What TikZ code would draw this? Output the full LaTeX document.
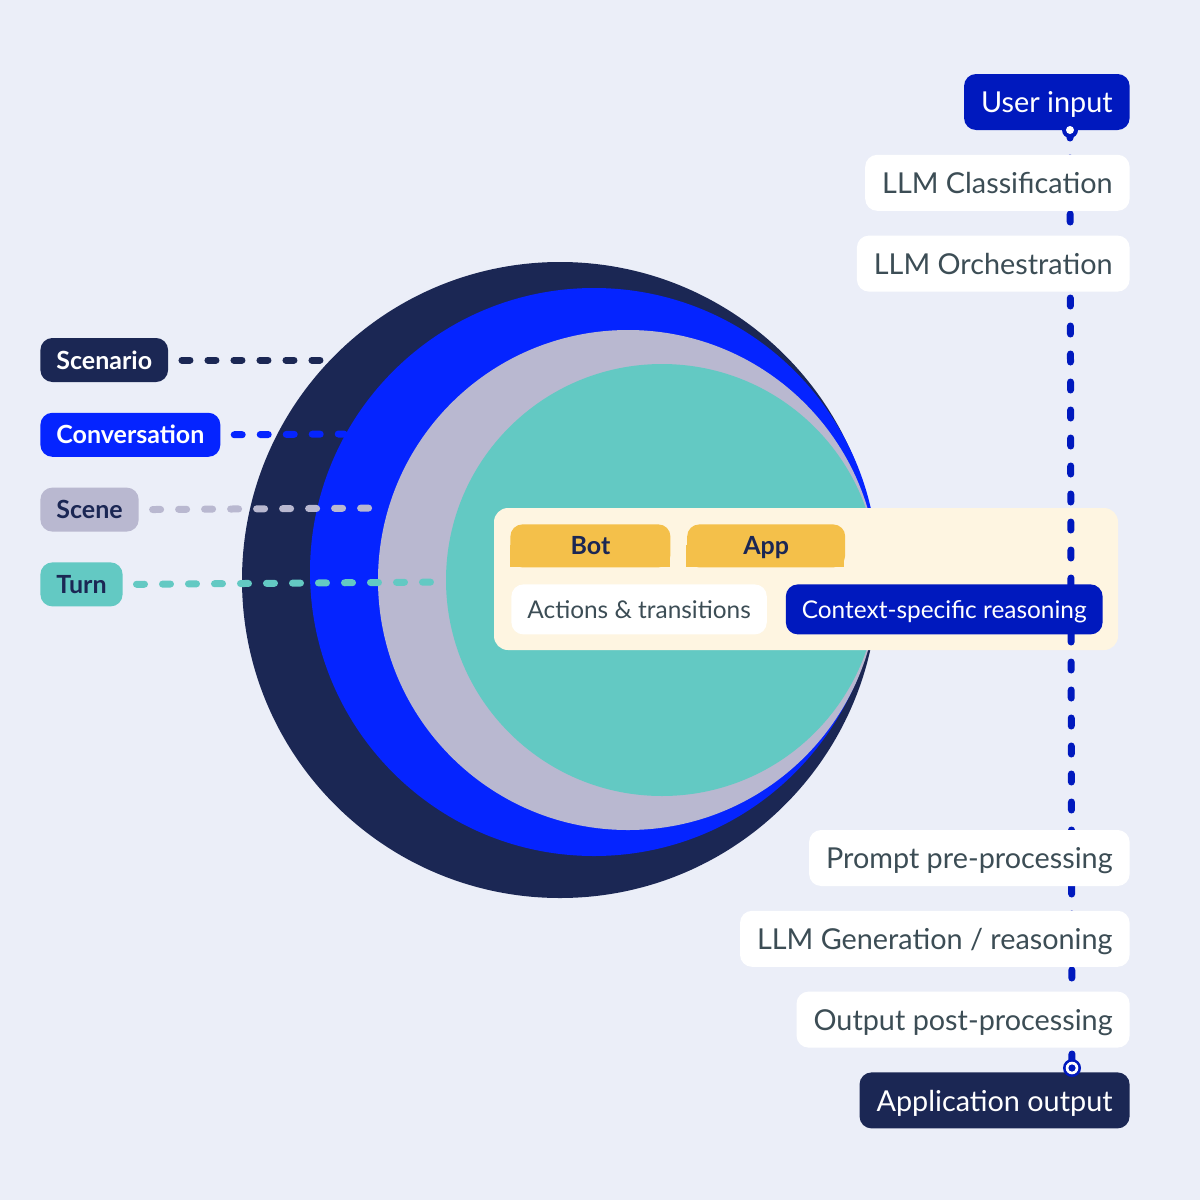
\documentclass[tikz,border=0pt]{standalone}
\usepackage{fontspec}
\setmainfont{Lato}
\usetikzlibrary{positioning,calc}
\definecolor{bgcol}{HTML}{EBEEF8}
\definecolor{navy}{HTML}{1B2754}
\definecolor{brightblue}{HTML}{0524FF}
\definecolor{lavender}{HTML}{B9B8D0}
\definecolor{teal}{HTML}{63C9C3}
\definecolor{deepblue}{HTML}{0019BE}
\definecolor{cream}{HTML}{FEF5E1}
\definecolor{tabyellow}{HTML}{F4C04A}
\definecolor{slate}{HTML}{3C4D55}

\begin{document}
\begin{tikzpicture}[x=0.5pt,y=-0.5pt,
  ring/.style={circle,inner sep=0pt},
  lbl/.style={rounded corners=6pt,inner xsep=8pt,minimum height=22pt,text height=9pt,text depth=0pt,font=\bfseries\fontsize{12.5}{14}\selectfont},
  rbox/.style={rounded corners=6pt,fill=white,text=slate,inner xsep=8.5pt,minimum height=28pt,text height=10.6pt,text depth=0pt,font=\fontsize{14.4}{16}\selectfont},
  tab/.style={fill=tabyellow,text=navy,rounded corners=6pt,minimum height=21.5pt,text height=9pt,text depth=0pt,font=\bfseries\fontsize{12.5}{14}\selectfont},
  chip/.style={rounded corners=6pt,minimum height=25pt,inner xsep=8pt,text height=8.8pt,text depth=0pt,font=\fontsize{12.2}{14}\selectfont},
  dots/.style={line width=3.5pt,line cap=round,dash pattern=on 4pt off 9pt,shorten <=6.75pt},
  vline/.style={draw=deepblue,line width=3.5pt,line cap=round,dash pattern=on 4pt off 10pt}]
%
\fill[bgcol] (0,0) rectangle (1200,1200);
\useasboundingbox (0,0) rectangle (1200,1200);
%
% nested circles
  \node[ring,fill=navy,minimum size=318pt] (scenC) at (560,580) {};
  \node[ring,fill=brightblue,minimum size=284pt] (convC) at (594,572) {};
  \node[ring,fill=lavender,minimum size=250pt] (sceneC) at (628,580) {};
  \node[ring,fill=teal,minimum size=216pt] (turnC) at (662,580) {};
%
% levels
  \node[lbl,fill=navy,text=white,anchor=west] (scen) at (40,360) {Scenario};
  \node[lbl,fill=brightblue,text=white,below right=15pt and 0pt of scen.south west] (conv) {Conversation};
  \node[lbl,fill=lavender,text=navy,below right=15pt and 0pt of conv.south west] (scene) {Scene};
  \node[lbl,fill=teal,text=navy,below right=15pt and 0pt of scene.south west] (turn) {Turn};
%
  \coordinate (scenEnd) at (328,360);
  \coordinate (convEnd) at (344,434);
  \coordinate (sceneEnd) at (384,508);
  \coordinate (turnEnd) at (444,582);
  \draw[dots,navy] (scen.east) -- (scenEnd);
  \draw[dots,brightblue] (conv.east) -- (convEnd);
  \draw[dots,lavender] (scene.east) -- (sceneEnd);
  \draw[dots,teal] (turn.east) -- (turnEnd);
%
% context panel
  \node[fill=cream,rounded corners=7pt,minimum width=312pt,minimum height=71pt] (panel) at (806,579) {};
  \fill[tabyellow] (510,545) rectangle (670,567);
  \fill[tabyellow] (686,545) rectangle (844,567);
  \node[tab,minimum width=80pt,anchor=north west] (bot) at (510,524) {Bot};
  \node[tab,minimum width=79pt,right=8pt of bot] (app) {App};
  \node[chip,fill=white,text=slate,anchor=north west] (act) at (511,584) {Actions \& transitions};
%
% pipeline
  \coordinate (inDot) at (1070,130);
  \coordinate (outDot) at (1072,1068);
  \draw[vline] (inDot) -- (outDot);
  \node[chip,fill=deepblue,text=white,anchor=north east] (csr) at (1103,584) {Context-specific reasoning};
%
  \node[rbox,fill=deepblue,text=white,anchor=east] (uin) at (1130,102) {User input};
  \node[rbox,below left=12pt and 0pt of uin.south east] (cls) {LLM Classification};
  \node[rbox,below left=12pt and 0pt of cls.south east] (orch) {LLM Orchestration};
  \node[rbox,anchor=east] (pre) at (1130,858) {Prompt pre-processing};
  \node[rbox,below left=12pt and 0pt of pre.south east] (gen) {LLM Generation / reasoning};
  \node[rbox,below left=12pt and 0pt of gen.south east] (post) {Output post-processing};
  \node[rbox,fill=navy,text=white,below left=12pt and 0pt of post.south east] (aout) {Application output};
%
  \fill[deepblue] (inDot) circle[radius=8];
  \fill[white] (inDot) circle[radius=4];
  \fill[deepblue] (outDot) circle[radius=9];
  \fill[white] (outDot) circle[radius=6.3];
  \fill[deepblue] (outDot) circle[radius=3.6];
\end{tikzpicture}
\end{document}
